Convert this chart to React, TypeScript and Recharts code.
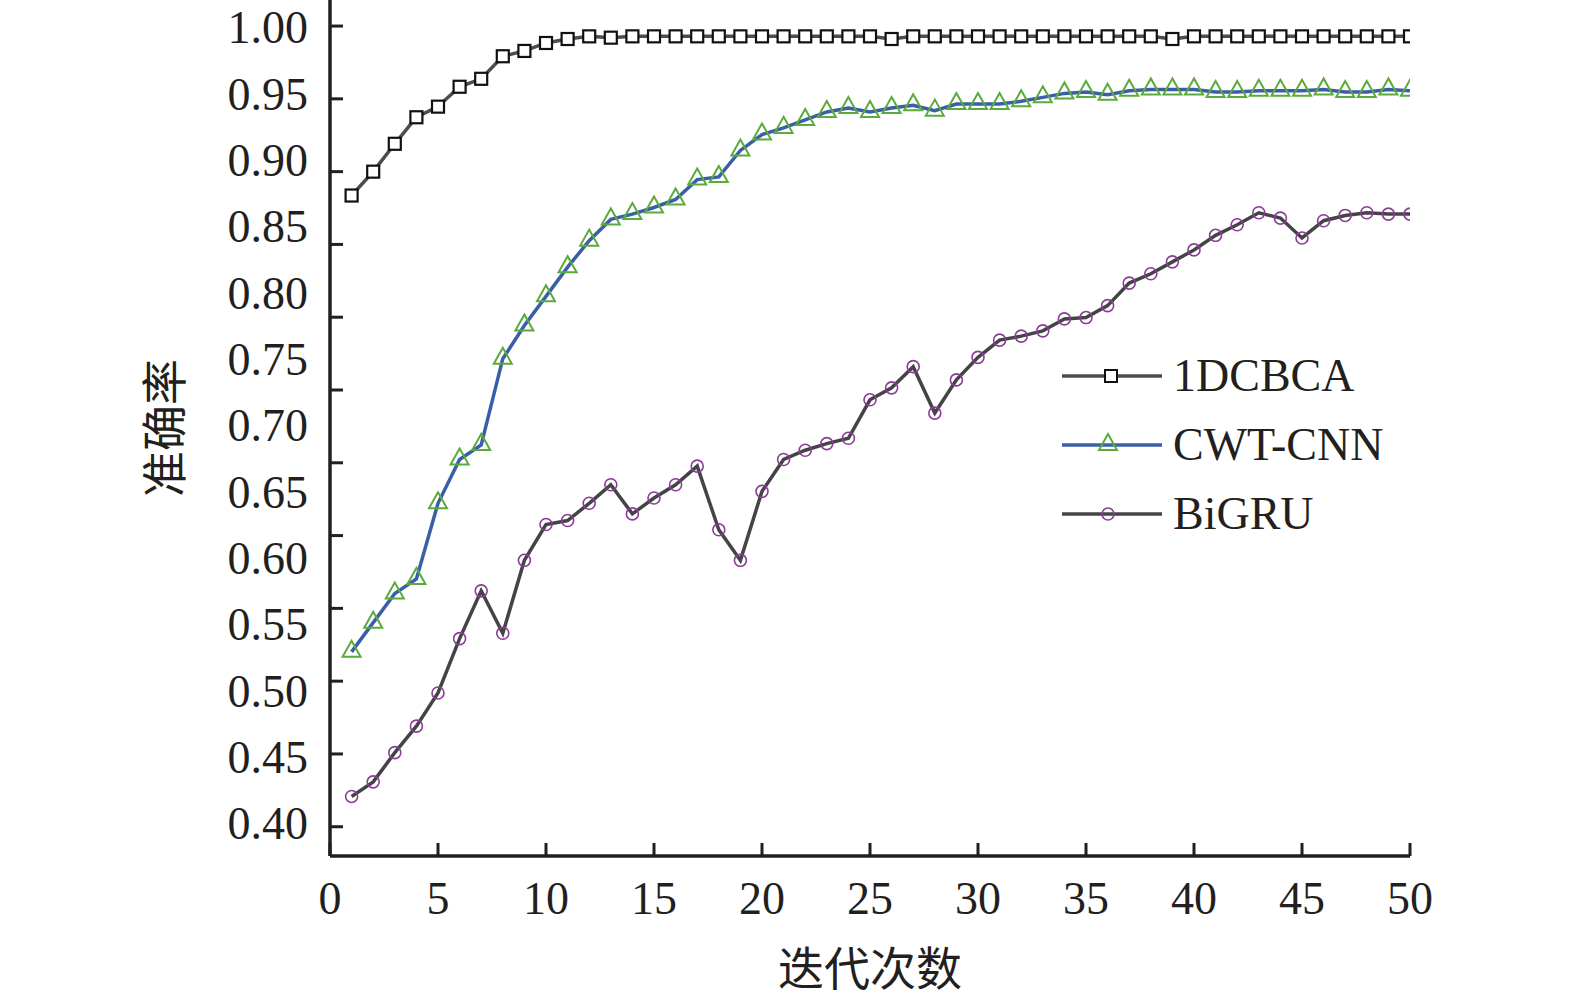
import { LineChart, Line, XAxis, YAxis, Legend } from 'recharts';

const iterations = [
  1, 2, 3, 4, 5, 6, 7, 8, 9, 10, 11, 12, 13, 14, 15, 16, 17, 18, 19, 20, 21, 22, 23, 24, 25,
  26, 27, 28, 29, 30, 31, 32, 33, 34, 35, 36, 37, 38, 39, 40, 41, 42, 43, 44, 45, 46, 47, 48, 49, 50,
];

const dcbca = [
  0.873, 0.891, 0.912, 0.932, 0.94, 0.955, 0.961, 0.978, 0.982, 0.988,
  0.991, 0.993, 0.992, 0.993, 0.993, 0.993, 0.993, 0.993, 0.993, 0.993,
  0.993, 0.993, 0.993, 0.993, 0.993, 0.991, 0.993, 0.993, 0.993, 0.993,
  0.993, 0.993, 0.993, 0.993, 0.993, 0.993, 0.993, 0.993, 0.991, 0.993,
  0.993, 0.993, 0.993, 0.993, 0.993, 0.993, 0.993, 0.993, 0.993, 0.993,
];

const cwtCnn = [
  0.529, 0.551, 0.573, 0.584, 0.641, 0.674, 0.685, 0.75, 0.775, 0.797,
  0.819, 0.839, 0.855, 0.859, 0.864, 0.87, 0.885, 0.887, 0.907, 0.919,
  0.924, 0.93, 0.936, 0.939, 0.936, 0.939, 0.941, 0.937, 0.942, 0.942,
  0.942, 0.944, 0.947, 0.95, 0.951, 0.949, 0.952, 0.953, 0.953, 0.953,
  0.951, 0.951, 0.952, 0.952, 0.952, 0.953, 0.951, 0.951, 0.953, 0.952,
];

const bigru = [
  0.42, 0.431, 0.453, 0.473, 0.498, 0.539, 0.575, 0.543, 0.598, 0.625,
  0.628, 0.641, 0.655, 0.633, 0.645, 0.655, 0.669, 0.621, 0.598, 0.65,
  0.674, 0.681, 0.686, 0.69, 0.719, 0.728, 0.744, 0.709, 0.734, 0.751,
  0.764, 0.767, 0.771, 0.78, 0.781, 0.79, 0.807, 0.814, 0.823, 0.832,
  0.843, 0.851, 0.86, 0.856, 0.841, 0.854, 0.858, 0.86, 0.859, 0.859,
];

const xTicks = [0, 5, 10, 15, 20, 25, 30, 35, 40, 45, 50];
const yLabelTicks = [0.4, 0.45, 0.5, 0.55, 0.6, 0.65, 0.7, 0.75, 0.8, 0.85, 0.9, 0.95, 1.0];
// the printed tick marks sit on a slightly different spacing than the labels
const yMarkTicks = [0.45, 0.5, 0.55, 0.6, 0.65, 0.7, 0.75, 0.8, 0.85, 0.9, 0.95, 1.0];

const data = iterations.map((it, i) => ({
  iter: it,
  dcbca: dcbca[i],
  cwt: cwtCnn[i],
  bigru: bigru[i],
}));

const INK = '#231f20';
const SERIF = '"Liberation Serif", "Times New Roman", serif';
const CJK = '"Noto Sans CJK SC", sans-serif';

const SquareDot = (p: any) => {
  if (p.cx == null || p.cy == null) return <g key={p.key} />;
  return (
    <rect key={p.key} x={p.cx - 6} y={p.cy - 6} width={12} height={12}
      fill="#fff" stroke="#111" strokeWidth={2.2} />
  );
};

const TriangleDot = (p: any) => {
  if (p.cx == null || p.cy == null) return <g key={p.key} />;
  const { cx, cy } = p;
  return (
    <polygon key={p.key}
      points={`${cx},${cy - 11} ${cx - 9},${cy + 5} ${cx + 9},${cy + 5}`}
      fill="none" stroke="#5aab3b" strokeWidth={2} />
  );
};

const CircleDot = (p: any) => {
  if (p.cx == null || p.cy == null) return <g key={p.key} />;
  return <circle key={p.key} cx={p.cx} cy={p.cy} r={6} fill="none" stroke="#8a3d95" strokeWidth={1.6} />;
};

const legendItems = [
  { name: '1DCBCA', color: '#4d4d4f', marker: 'square' },
  { name: 'CWT-CNN', color: '#3a5fa8', marker: 'triangle' },
  { name: 'BiGRU', color: '#444446', marker: 'circle' },
];

function LegendBox() {
  return (
    <div>
      {legendItems.map((it) => (
        <div key={it.name} style={{ display: 'flex', alignItems: 'center', height: 69 }}>
          <svg width={100} height={30} style={{ display: 'block' }}>
            <line x1={0} x2={100} y1={15} y2={15} stroke={it.color} strokeWidth={3.5} />
            {it.marker === 'square' && <rect x={43} y={9} width={12} height={12} fill="#fff" stroke="#111" strokeWidth={2} />}
            {it.marker === 'triangle' && <polygon points="46,4 37,20 55,20" fill="none" stroke="#5aab3b" strokeWidth={2} />}
            {it.marker === 'circle' && <circle cx={46} cy={15} r={6} fill="none" stroke="#8a3d95" strokeWidth={1.6} />}
          </svg>
          <span style={{ marginLeft: 11, fontFamily: SERIF, fontSize: 46, color: INK, lineHeight: 1 }}>{it.name}</span>
        </div>
      ))}
    </div>
  );
}

export default function App() {
  return (
    <div style={{ position: 'absolute', left: 0, top: 0, background: '#fff' }}>
      <LineChart width={1575} height={1007} data={data} margin={{ top: 0, right: 165, bottom: 0, left: 0 }}>
        <XAxis
          dataKey="iter"
          type="number"
          domain={[0, 50]}
          allowDataOverflow
          ticks={xTicks}
          interval={0}
          height={151}
          tickSize={-13}
          tickMargin={38}
          axisLine={{ stroke: INK, strokeWidth: 3.5 }}
          tickLine={{ stroke: INK, strokeWidth: 3 }}
          tick={{ fill: INK, fontSize: 46, fontFamily: SERIF }}
          label={{ value: '迭代次数', position: 'insideBottom', offset: 22, fill: INK, fontSize: 46, fontFamily: CJK }}
        />
        <YAxis
          yAxisId="marks"
          orientation="left"
          mirror
          type="number"
          domain={[0.4299, 1.0179]}
          allowDataOverflow
          ticks={yMarkTicks}
          interval={0}
          axisLine={false}
          tickSize={13}
          tickLine={{ stroke: INK, strokeWidth: 3 }}
          tick={() => <g />}
        />
        <YAxis
          yAxisId="val"
          type="number"
          domain={[0.3751, 1.0204]}
          allowDataOverflow
          ticks={yLabelTicks}
          interval={0}
          width={330}
          tickLine={false}
          tickSize={6}
          tickMargin={16}
          axisLine={{ stroke: INK, strokeWidth: 3.5 }}
          tickFormatter={(v: number) => v.toFixed(2)}
          tick={{ fill: INK, fontSize: 46, fontFamily: SERIF }}
          label={{ value: '准确率', angle: -90, position: 'center', fill: INK, fontSize: 46, fontFamily: CJK }}
        />
        <Legend
          layout="vertical"
          align="center"
          verticalAlign="middle"
          content={<LegendBox />}
          wrapperStyle={{ left: 1062, top: 341, width: 400 }}
        />
        <Line yAxisId="val" dataKey="bigru" name="BiGRU" stroke="#444446" strokeWidth={3.5}
          dot={CircleDot} activeDot={false} isAnimationActive={false} />
        <Line yAxisId="val" dataKey="cwt" name="CWT-CNN" stroke="#3a5fa8" strokeWidth={3.5}
          dot={TriangleDot} activeDot={false} isAnimationActive={false} />
        <Line yAxisId="val" dataKey="dcbca" name="1DCBCA" stroke="#4d4d4f" strokeWidth={3.5}
          dot={SquareDot} activeDot={false} isAnimationActive={false} />
      </LineChart>
    </div>
  );
}
